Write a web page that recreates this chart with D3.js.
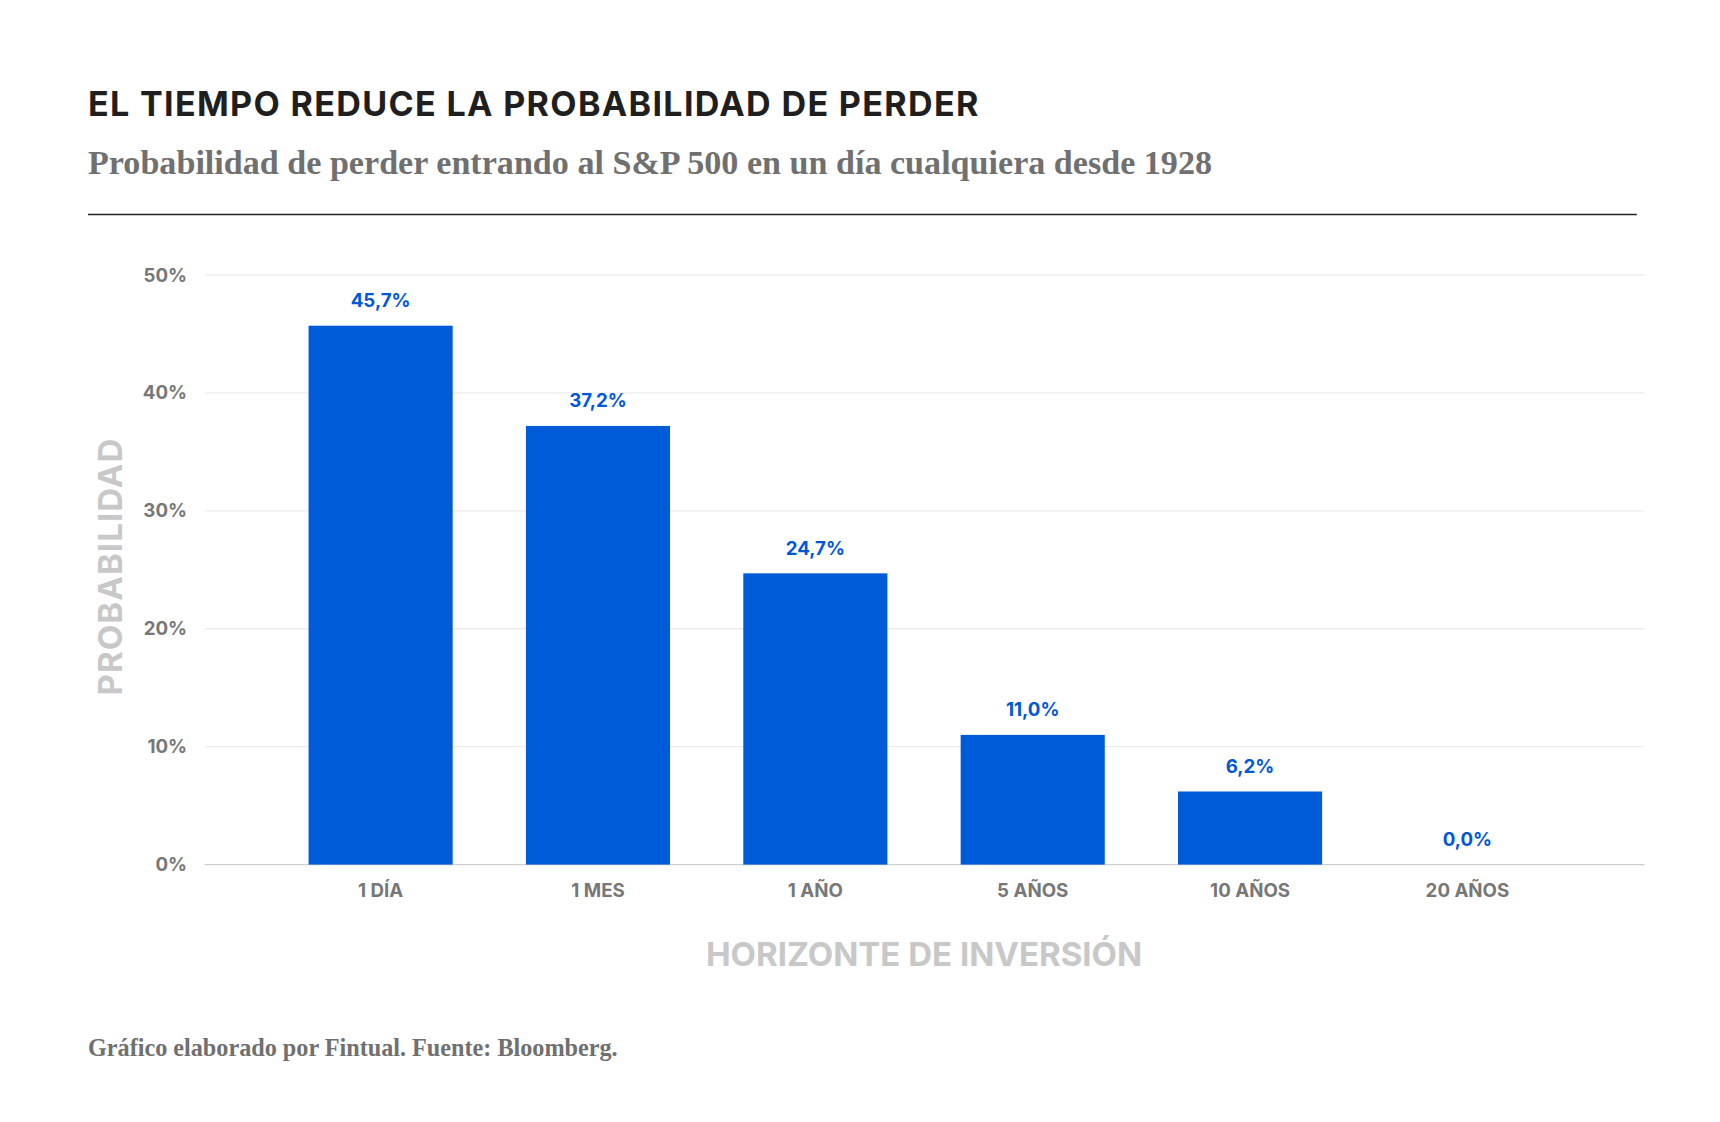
<!DOCTYPE html>
<html>
<head>
<meta charset="utf-8">
<script src="https://cdn.jsdelivr.net/npm/d3@7"></script>
<style>
  body { margin: 0; background: #fff; }
  text { font-family: Inter, "Open Sans", sans-serif; }
</style>
</head>
<body>
<div id="chart"></div>
<script>
// Data
var horizons = ["1 DÍA", "1 MES", "1 AÑO", "5 AÑOS", "10 AÑOS", "20 AÑOS"];
var lossProb = [45.7, 37.2, 24.7, 11.0, 6.2, 0.0];
var yTicks = [0, 10, 20, 30, 40, 50];

// drawn in a 1563.6 x 1020 coordinate space, scaled to the window
var svg = d3.select("#chart")
  .append("svg")
  .attr("width", 1720)
  .attr("height", 1122)
  .attr("viewBox", "0 0 1563.6 1020");

svg.append("text")
  .attr("x", 80).attr("y", 105)
  .attr("font-size", 31).attr("font-weight", 700)
  .attr("letter-spacing", 1.2)
  .attr("fill", "#1f1f1f")
  .text("EL TIEMPO REDUCE LA PROBABILIDAD DE PERDER");

svg.append("text")
  .attr("x", 80).attr("y", 158)
  .style("font-family", "'Liberation Serif', serif")
  .attr("font-size", 31).attr("font-weight", 700)
  .attr("fill", "#707070")
  .text("Probabilidad de perder entrando al S&P 500 en un día cualquiera desde 1928");

svg.append("line")
  .attr("x1", 80).attr("x2", 1488)
  .attr("y1", 195).attr("y2", 195)
  .attr("stroke", "#222").attr("stroke-width", 1.5);

var plotLeft = 186, plotRight = 1495;

var y = d3.scaleLinear().domain([0, 50]).range([786, 250]);
var x = d3.scaleBand()
  .domain(horizons)
  .range([247.2, 1432.8])
  .paddingInner(0.337)
  .paddingOuter(0.1685);

// gridlines
svg.selectAll(".grid")
  .data(yTicks)
  .enter()
  .append("line")
  .attr("x1", plotLeft).attr("x2", plotRight)
  .attr("y1", d => y(d)).attr("y2", d => y(d))
  .attr("stroke", d => d === 0 ? "#cfcfcf" : "#ececec")
  .attr("stroke-width", 1.2);

// y axis
var yAxis = svg.append("g")
  .attr("transform", `translate(${plotLeft}, 0)`)
  .call(d3.axisLeft(y).tickValues(yTicks).tickSize(0).tickPadding(16).tickFormat(d => d + "%"));
yAxis.select(".domain").remove();
yAxis.selectAll("text")
  .attr("font-size", 17).attr("font-weight", 700).attr("fill", "#777")
  .style("font-family", "Inter, sans-serif");

// x axis
var xAxis = svg.append("g")
  .attr("transform", "translate(0, 786)")
  .call(d3.axisBottom(x).tickSize(0).tickPadding(17));
xAxis.select(".domain").remove();
xAxis.selectAll("text")
  .attr("font-size", 17).attr("font-weight", 700).attr("fill", "#777")
  .style("font-family", "Inter, sans-serif");

var rows = horizons.map((h, i) => ({ h: h, v: lossProb[i] }));

svg.selectAll(".bar")
  .data(rows)
  .enter()
  .append("rect")
  .attr("x", d => x(d.h))
  .attr("y", d => y(d.v))
  .attr("width", x.bandwidth())
  .attr("height", d => y(0) - y(d.v))
  .attr("fill", "#005bd8");

svg.selectAll(".lbl")
  .data(rows)
  .enter()
  .append("text")
  .attr("x", d => x(d.h) + x.bandwidth() / 2)
  .attr("y", d => y(d.v) - 17)
  .attr("text-anchor", "middle")
  .attr("font-size", 17).attr("font-weight", 700)
  .attr("fill", "#0057d9")
  .text(d => d.v.toFixed(1).replace(".", ",") + "%");

// axis titles
svg.append("text")
  .attr("transform", "translate(111, 515) rotate(-90)")
  .attr("text-anchor", "middle")
  .attr("font-size", 30).attr("font-weight", 700)
  .attr("letter-spacing", 1)
  .attr("fill", "#c8c8c8")
  .text("PROBABILIDAD");

svg.append("text")
  .attr("x", 840).attr("y", 878)
  .attr("text-anchor", "middle")
  .attr("font-size", 30).attr("font-weight", 700)
  .attr("fill", "#c8c8c8")
  .text("HORIZONTE DE INVERSIÓN");

svg.append("text")
  .attr("x", 80).attr("y", 960)
  .style("font-family", "'Liberation Serif', serif")
  .attr("font-size", 22).attr("font-weight", 700)
  .attr("fill", "#707070")
  .text("Gráfico elaborado por Fintual. Fuente: Bloomberg.");
</script>
</body>
</html>
